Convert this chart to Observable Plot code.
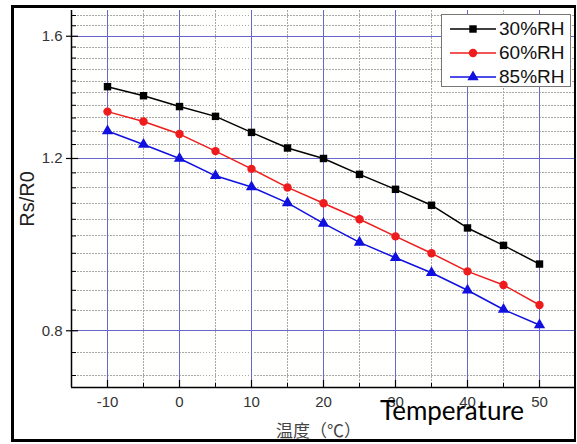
<!DOCTYPE html>
<html>
<head>
<meta charset="utf-8">
<script src="https://cdn.jsdelivr.net/npm/d3@7"></script>
<script src="https://cdn.jsdelivr.net/npm/@observablehq/plot@0.6"></script>
<style>
  html, body { margin: 0; padding: 0; background: #fff; }
  #wrap { position: relative; width: 577px; height: 444px; overflow: hidden; }
  #border { position: absolute; left: 11px; top: 5px; width: 565px; height: 437px; box-sizing: border-box;
            border: 3px solid #000; border-right-width: 2px; pointer-events: none; }
  #chart { position: absolute; left: 0; top: 0; }
  #legend { position: absolute; left: 441px; top: 14px; width: 130px; height: 73px; box-sizing: border-box;
            border: 1px solid #777; background: #fff; padding-top: 2px; }
  .row { display: flex; align-items: center; height: 24px; }
  .row svg { margin-left: 8px; }
  .row span { font: 19px "Liberation Sans", Arial, sans-serif; color: #111; margin-left: 3px; }
  #temp { position: absolute; left: 380px; top: 397px; font: 26px Lato, "Open Sans", sans-serif; line-height: 26px; color: #000; white-space: nowrap; }
</style>
</head>
<body>
<div id="wrap">
  <div id="chart"></div>
  <div id="legend"></div>
  <div id="temp">Temperature</div>
  <div id="border"></div>
</div>
<script>
// ---- data ----
const temps = [-10, -5, 0, 5, 10, 15, 20, 25, 30, 35, 40, 45, 50];
const rh30 = [1.421, 1.391, 1.356, 1.325, 1.276, 1.230, 1.200, 1.156, 1.116, 1.075, 1.019, 0.978, 0.936];
const rh60 = [1.340, 1.309, 1.271, 1.221, 1.171, 1.121, 1.080, 1.040, 0.999, 0.960, 0.920, 0.891, 0.850];
const rh85 = [1.280, 1.240, 1.200, 1.152, 1.122, 1.081, 1.030, 0.985, 0.950, 0.917, 0.880, 0.841, 0.811];
const seriesNames = ["30%RH", "60%RH", "85%RH"];
const seriesColors = ["#000000", "#ee1c1c", "#1010e0"];
const seriesSymbols = ["square", "circle", "triangle"];
const xMajorTicks = [-10, 0, 10, 20, 30, 40, 50];
const xMinorTicks = [-5, 5, 15, 25, 35, 45];
const yMajorTicks = [0.8, 1.2, 1.6];
const yMinorTicks = [0.72, 0.76, 0.84, 0.88, 0.92, 0.96, 1.00, 1.04, 1.08, 1.12, 1.16,
                     1.24, 1.28, 1.32, 1.36, 1.40, 1.44, 1.48, 1.52, 1.56, 1.64, 1.68];
const xDomain = [-15, 55];
const yDomain = [0.7, 1.7];
const xLabel = "温度（℃）";
const yLabel = "Rs/R0";

const seriesValues = [rh30, rh60, rh85];
const data = seriesNames.flatMap((s, k) => temps.map((t, i) => ({t, v: seriesValues[k][i], s})));

const majorGrid = "#6666cc";
const minorGrid = "#a8a8a8";

const plot = Plot.plot({
  width: 577,
  height: 444,
  marginLeft: 71,
  marginRight: 2,
  marginTop: 10,
  marginBottom: 57,
  style: {background: "transparent", fontFamily: "'Liberation Sans', Arial, sans-serif", fontSize: "15px", color: "#333"},
  x: {domain: xDomain},
  y: {type: "log", domain: yDomain},
  color: {domain: seriesNames, range: seriesColors},
  symbol: {domain: seriesNames, range: seriesSymbols},
  marks: [
    Plot.frame({fill: "#fffffd", stroke: null}),
    Plot.ruleX(xMinorTicks, {stroke: minorGrid, strokeDasharray: "1.5,1.5", strokeWidth: 1, shapeRendering: "crispEdges"}),
    Plot.ruleY(yMinorTicks, {stroke: minorGrid, strokeDasharray: "1.5,1.5", strokeWidth: 1, shapeRendering: "crispEdges"}),
    Plot.ruleX(xMajorTicks, {stroke: majorGrid, strokeWidth: 1, shapeRendering: "crispEdges"}),
    Plot.ruleY(yMajorTicks, {stroke: majorGrid, strokeWidth: 1, shapeRendering: "crispEdges"}),
    // axis lines
    Plot.ruleX([xDomain[0]], {stroke: "#000", strokeWidth: 1.5}),
    Plot.ruleY([yDomain[0]], {stroke: "#000", strokeWidth: 1.5}),
    // y ticks
    Plot.axisY(yMajorTicks, {tickSize: 12, dx: 7, text: null, label: null, stroke: "#000", strokeWidth: 1.2}),
    Plot.axisY(yMinorTicks, {tickSize: 5, dx: 5, text: null, label: null, stroke: "#000", strokeWidth: 1}),
    Plot.axisY(yMajorTicks, {tickSize: 0, tickPadding: 9, tickFormat: d => d.toFixed(1), label: null, fill: "#333", fontSize: 15}),
    // x ticks
    Plot.axisX(xMajorTicks, {tickSize: 7, dy: -7, text: null, label: null, stroke: "#000", strokeWidth: 1.2}),
    Plot.axisX(xMinorTicks, {tickSize: 4, dy: -4, text: null, label: null, stroke: "#000", strokeWidth: 1}),
    Plot.axisX(xMajorTicks, {tickSize: 0, tickPadding: 9, tickFormat: d => String(d), label: null, fill: "#333", fontSize: 15}),
    // axis titles
    Plot.text([yLabel], {text: d => d, frameAnchor: "left", textAnchor: "middle", dx: -44, rotate: -90, fontSize: 20, fill: "#222", fontFamily: "'Liberation Sans', Arial, sans-serif"}),
    Plot.text([xLabel], {text: d => d, frameAnchor: "bottom", lineAnchor: "bottom", dx: -5, dy: 49, fontSize: 17, fill: "#444", fontFamily: "'Noto Sans CJK SC', sans-serif"}),
    // series
    Plot.line(data, {x: "t", y: "v", z: "s", stroke: "s", strokeWidth: 1.5}),
    Plot.dot(data, {x: "t", y: "v", fill: "s", symbol: "s", r: 4.2, stroke: null})
  ]
});
document.getElementById("chart").appendChild(plot);

// legend
const legend = d3.select("#legend");
seriesNames.forEach((name, k) => {
  const row = legend.append("div").attr("class", "row");
  const svg = row.append("svg").attr("width", 46).attr("height", 20);
  svg.append("line").attr("x1", 0).attr("x2", 46).attr("y1", 10).attr("y2", 10)
     .attr("stroke", seriesColors[k]).attr("stroke-width", 1.5);
  const sym = {square: d3.symbolSquare, circle: d3.symbolCircle, triangle: d3.symbolTriangle}[seriesSymbols[k]];
  svg.append("path").attr("transform", "translate(23,10)")
     .attr("d", d3.symbol(sym, Math.PI * 4.2 * 4.2)())
     .attr("fill", seriesColors[k]);
  row.append("span").text(name);
});
</script>
</body>
</html>
